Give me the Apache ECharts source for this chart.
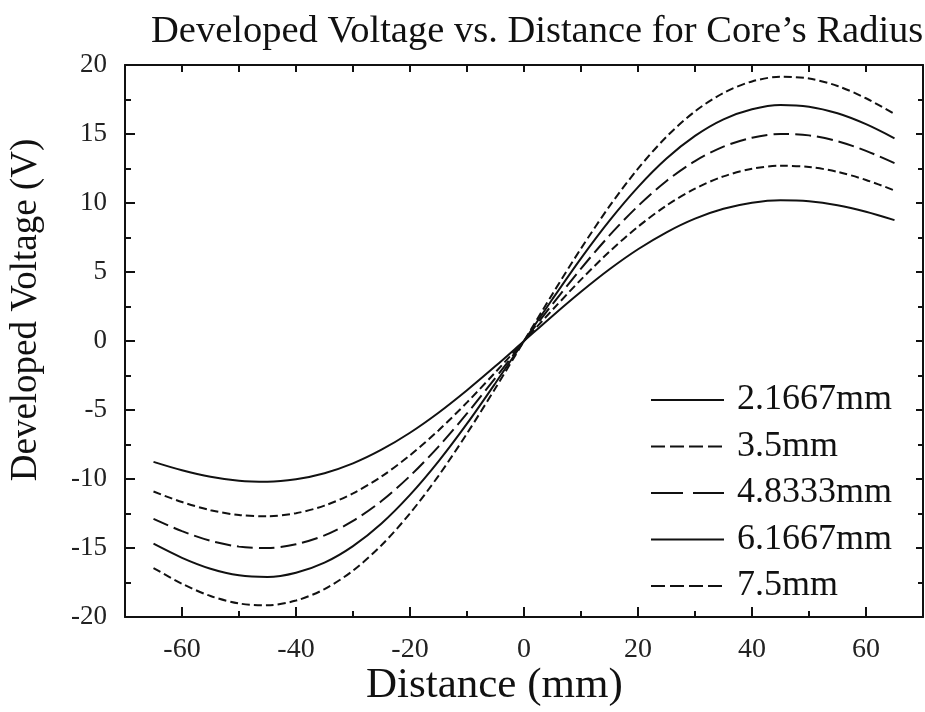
<!DOCTYPE html>
<html>
<head>
<meta charset="utf-8">
<title>Developed Voltage vs. Distance</title>
<script src="https://cdn.jsdelivr.net/npm/echarts@6/dist/echarts.min.js"></script>
<style>
    html, body { margin: 0; padding: 0; background: #fff; }
    #chart { width: 925px; height: 712px; }
</style>
</head>
<body>
<div id="chart"></div>
<script>
    // distance along the core (mm)
    var distance = [-65, -60, -55, -50, -45, -40, -35, -30, -25, -20, -15, -10, -5, 0,
                    5, 10, 15, 20, 25, 30, 35, 40, 45, 50, 55, 60, 65];

    // developed voltage (V), one array per core radius
    var v2167 = [-8.76, -9.37, -9.84, -10.13, -10.20, -10.02, -9.58, -8.87, -7.88, -6.65, -5.20, -3.57, -1.82, 0,
                 1.82, 3.57, 5.20, 6.65, 7.88, 8.87, 9.58, 10.02, 10.20, 10.13, 9.84, 9.37, 8.76];
    var v35 = [-10.91, -11.67, -12.26, -12.61, -12.70, -12.48, -11.93, -11.04, -9.82, -8.28, -6.48, -4.45, -2.26, 0,
               2.26, 4.45, 6.48, 8.28, 9.82, 11.04, 11.93, 12.48, 12.70, 12.61, 12.26, 11.67, 10.91];
    var v48333 = [-12.89, -13.78, -14.48, -14.90, -15.00, -14.73, -14.09, -13.04, -11.60, -9.78, -7.65, -5.25, -2.67, 0,
                  2.67, 5.25, 7.65, 9.78, 11.60, 13.04, 14.09, 14.73, 15.00, 14.90, 14.48, 13.78, 12.89];
    var v61667 = [-14.69, -15.71, -16.50, -16.98, -17.10, -16.79, -16.06, -14.86, -13.22, -11.15, -8.72, -5.99, -3.04, 0,
                  3.04, 5.99, 8.72, 11.15, 13.22, 14.86, 16.06, 16.79, 17.10, 16.98, 16.50, 15.71, 14.69];
    var v75 = [-16.45, -17.59, -18.48, -19.02, -19.15, -18.81, -17.98, -16.64, -14.80, -12.49, -9.77, -6.70, -3.41, 0,
               3.41, 6.70, 9.77, 12.49, 14.80, 16.64, 17.98, 18.81, 19.15, 19.02, 18.48, 17.59, 16.45];

    var seriesNames = ['2.1667mm', '3.5mm', '4.8333mm', '6.1667mm', '7.5mm'];
    var seriesValues = [v2167, v35, v48333, v61667, v75];

    // tick positions
    var xMajorTicks = [-60, -40, -20, 0, 20, 40, 60];
    var xMinorTicks = [-50, -30, -10, 10, 30, 50];
    var xAllTicks = [-60, -50, -40, -30, -20, -10, 0, 10, 20, 30, 40, 50, 60];

    var serif = '"Liberation Serif", "Times New Roman", serif';
    var ink = '#111';
    var shortDash = [8, 4];
    var longDash = [16, 6];
    var dashes = ['solid', shortDash, longDash, 'solid', shortDash];
    var legendDashes = ['solid', [14, 5], [32, 10], 'solid', [14, 5]];

    function pairs(values) {
        var out = [];
        for (var i = 0; i < distance.length; i++) {
            out.push([distance[i], values[i]]);
        }
        return out;
    }

    var chart = echarts.init(document.getElementById('chart'));

    var series = seriesNames.map(function (name, i) {
        return {
            name: name,
            type: 'line',
            smooth: 0.3,
            symbol: 'none',
            xAxisIndex: 0,
            yAxisIndex: 0,
            lineStyle: { color: ink, width: 2, type: dashes[i] },
            itemStyle: { color: ink },
            data: pairs(seriesValues[i])
        };
    });

    var option = {
        backgroundColor: '#fff',
        animation: false,
        title: {
            text: 'Developed Voltage vs. Distance for Core\u2019s Radius',
            left: 146,
            top: 7,
            textStyle: { fontFamily: serif, fontSize: 38.5, fontWeight: 'normal', color: ink }
        },
        grid: { left: 125, right: 2, top: 65, bottom: 95, containLabel: false },
        legend: {
            orient: 'vertical',
            left: 645,
            top: 377,
            itemWidth: 73,
            itemHeight: 20,
            itemGap: 10.5,
            textStyle: { fontFamily: serif, fontSize: 36, color: ink, padding: [0, 0, 0, 8] },
            data: seriesNames.map(function (name, i) {
                return { name: name, itemStyle: { opacity: 0 }, lineStyle: { color: ink, width: 2, type: legendDashes[i] } };
            })
        },
        xAxis: [{
            type: 'value', position: 'bottom', min: -70, max: 70,
            axisLine: { show: true, onZero: false, lineStyle: { color: ink, width: 2 } },
            axisTick: { show: true, inside: true, length: 10, customValues: xMajorTicks, lineStyle: { color: ink, width: 2 } },
            axisLabel: { customValues: xMajorTicks, margin: 19, fontFamily: serif, fontSize: 28, color: '#222' },
            splitLine: { show: false }
        }, {
            type: 'value', position: 'bottom', min: -70, max: 70,
            axisLine: { show: false, onZero: false },
            axisTick: { show: true, inside: true, length: 6, customValues: xMinorTicks, lineStyle: { color: ink, width: 2 } },
            axisLabel: { show: false },
            splitLine: { show: false }
        }, {
            type: 'value', position: 'top', min: -70, max: 70,
            axisLine: { show: true, onZero: false, lineStyle: { color: ink, width: 2 } },
            axisTick: { show: true, inside: true, length: 7, customValues: xAllTicks, lineStyle: { color: ink, width: 2 } },
            axisLabel: { show: false },
            splitLine: { show: false }
        }],
        yAxis: [{
            type: 'value', position: 'left', min: -20, max: 20, interval: 5,
            axisLine: { show: true, onZero: false, lineStyle: { color: ink, width: 2 } },
            axisTick: { show: true, inside: true, length: 10, lineStyle: { color: ink, width: 2 } },
            minorTick: { show: true, splitNumber: 2, length: 6, lineStyle: { color: ink, width: 2 } },
            axisLabel: { margin: 18, fontFamily: serif, fontSize: 27, color: '#222' },
            splitLine: { show: false }
        }, {
            type: 'value', position: 'right', min: -20, max: 20, interval: 5,
            axisLine: { show: true, onZero: false, lineStyle: { color: ink, width: 2 } },
            axisTick: { show: true, inside: true, length: 7, lineStyle: { color: ink, width: 2 } },
            minorTick: { show: true, splitNumber: 2, length: 5, lineStyle: { color: ink, width: 2 } },
            axisLabel: { show: false },
            splitLine: { show: false }
        }],
        graphic: [{
            type: 'text',
            left: 366,
            top: 664,
            style: { text: 'Distance (mm)', font: '43px ' + serif, fill: ink }
        }, {
            type: 'text',
            x: 8,
            y: 310,
            rotation: Math.PI / 2,
            style: { text: 'Developed Voltage (V)', font: '37px ' + serif, fill: ink, align: 'center', verticalAlign: 'top' }
        }],
        series: series
    };

    chart.setOption(option);
    window.addEventListener('resize', function () {
        chart.resize();
    });
</script>
</body>
</html>
